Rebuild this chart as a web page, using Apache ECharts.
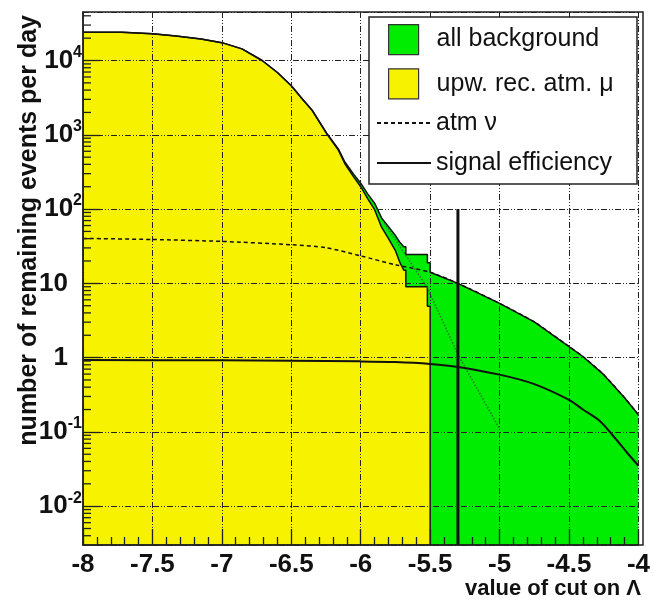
<!DOCTYPE html>
<html><head><meta charset="utf-8">
<script src="https://cdn.jsdelivr.net/npm/echarts@6/dist/echarts.min.js"></script>
<style>html,body{margin:0;padding:0;background:#fff}#c{width:653px;height:600px}</style>
</head><body><div id="c"></div>
<script>
// ---- data ----
const xTickLabels = ['-8','-7.5','-7','-6.5','-6','-5.5','-5','-4.5','-4'];
const muonX = [-8.0,-7.72,-7.72,-7.5,-7.33,-7.15,-7.0,-6.855,-6.71,-6.6,-6.5,-6.41,-6.35,-6.246,-6.16,-6.114,-6.05,-6.0,-5.95,-5.9,-5.85,-5.8,-5.75,-5.72,-5.69,-5.675,-5.675,-5.52,-5.52,-5.5,-5.5];
const muonY = [24000,24000,23500,22900,21400,19500,17400,14350,10000,6900,4570,2880,2140,1035,617,407,269,200,138,98,57,40,27.5,19.5,15,15,9,9,4.9,4.9,0.003];
const totalX = [-8.0,-7.72,-7.72,-7.5,-7.33,-7.15,-7.0,-6.855,-6.71,-6.6,-6.5,-6.41,-6.35,-6.246,-6.16,-6.114,-6.05,-6.0,-5.95,-5.9,-5.85,-5.8,-5.75,-5.72,-5.69,-5.675,-5.675,-5.52,-5.52,-5.5,-5.5,-5.3,-5.0,-4.75,-4.5,-4.4,-4.25,-4.1,-4.0];
const totalY = [24000,24000,23500,22900,21400,19500,17400,14350,10000,6900,4570,2880,2140,1060,640,430,293,223,160,120,76,58,44,36,31,31,24.5,24.5,19,19,14.1,10,5.37,3.02,1.41,1.035,0.589,0.288,0.17];
const nuX = [-8,-7.5,-7,-6.5,-6.25,-6,-5.75,-5.5,-5.3,-5.0,-4.75,-4.5,-4.4,-4.25,-4.1,-4.0];
const nuY = [40.3,38.9,36.7,33.1,30.2,23.4,17.8,14.1,10,5.37,3.02,1.41,1.035,0.589,0.288,0.17];
const effX = [-8,-7,-6.5,-6,-5.75,-5.5,-5.3,-5.0,-4.75,-4.5,-4.4,-4.28,-4.16,-4.08,-4.0];
const effY = [0.93,0.92,0.91,0.89,0.87,0.82,0.75,0.59,0.44,0.27,0.2,0.141,0.079,0.052,0.035];
const extrapX = [-5.83,-5.52,-5.3,-5.0];
const extrapY = [65,8.7,1.1,0.11];
const cutX = [-5.3,-5.3];
const cutY = [0.003,100];
const minorMult = [2,3,4,5,6,7,8,9];
const minorDecades = [-3,-2,-1,0,1,2,3,4];

const YMIN = 0.003, YMAX = 45000;
const FONT = '"Liberation Sans", Arial, Helvetica, sans-serif';
const pairs = (xs, ys) => xs.map((x, i) => [x, ys[i]]);
const minorVals = [];
minorDecades.forEach(d => minorMult.forEach(m => {
  const v = m * Math.pow(10, d);
  if (v > YMIN && v < YMAX) minorVals.push([-8, v]);
}));

const GREEN = '#00ec00', YELLOW = '#f6f200';
const gridStyle = {color: '#222', width: 1, type: [6, 2, 1, 2, 1, 2]};
const hiddenSymbol = {color: 'transparent', borderWidth: 0, opacity: 0};

const chart = echarts.init(document.getElementById('c'), null, {renderer: 'canvas'});
chart.setOption({
  animation: false,
  backgroundColor: '#fff',
  textStyle: {fontFamily: FONT},
  grid: {left: 83, right: 10, top: 12, bottom: 55, containLabel: false},
  xAxis: {
    type: 'value', min: -8, max: -4, interval: 0.5, z: 3,
    axisLine: {show: true, lineStyle: {color: '#222', width: 1.5}},
    axisTick: {show: true, inside: true, length: 16, lineStyle: {color: '#222', width: 1.3}},
    minorTick: {show: true, splitNumber: 5, length: 8, lineStyle: {color: '#222', width: 1.3}},
    splitLine: {show: true, lineStyle: gridStyle},
    axisLabel: {
      margin: 7, fontSize: 26, fontWeight: 'bold', color: '#111', fontFamily: FONT,
      formatter: (v) => { const i = Math.round((v + 8) / 0.5); return xTickLabels[i] !== undefined ? xTickLabels[i] : ''; }
    }
  },
  yAxis: {
    type: 'log', logBase: 10, min: YMIN, max: YMAX, z: 3,
    axisLine: {show: true, lineStyle: {color: '#222', width: 1.5}},
    axisTick: {show: true, inside: true, length: 17, lineStyle: {color: '#222', width: 1.3}},
    splitLine: {show: true, lineStyle: gridStyle},
    axisLabel: {
      margin: 1, showMinLabel: false, showMaxLabel: false, color: '#111', fontFamily: FONT,
      formatter: (v) => {
        const e = Math.round(Math.log10(v));
        if (e === 0) return '{p|1}';
        if (e === 1) return '{p|10}';
        return '{b|10}{s|' + e + '}';
      },
      rich: {
        p: {fontSize: 26, fontWeight: 'bold', fontFamily: FONT, color: '#111', lineHeight: 32, padding: [0, 14, 0, 0]},
        b: {fontSize: 26, fontWeight: 'bold', fontFamily: FONT, color: '#111', lineHeight: 32},
        s: {fontSize: 16, fontWeight: 'bold', fontFamily: FONT, color: '#111', lineHeight: 32, verticalAlign: 'top'}
      }
    }
  },
  legend: [
    {
      z: 20, orient: 'vertical', left: 388, top: 24, padding: 0, itemWidth: 30, itemHeight: 30, itemGap: 13,
      selectedMode: false,
      textStyle: {fontSize: 25, fontFamily: FONT, color: '#111', lineHeight: 30, padding: [0, 0, 0, 13]},
      data: [
        {name: 'all background', icon: 'rect', itemStyle: {color: GREEN, borderColor: '#333', borderWidth: 1.2}},
        {name: 'upw. rec. atm. μ', icon: 'rect', itemStyle: {color: YELLOW, borderColor: '#333', borderWidth: 1.2}}
      ]
    },
    {
      z: 20, orient: 'vertical', left: 376, top: 108, padding: 0, itemWidth: 54, itemHeight: 30, itemGap: 10,
      selectedMode: false,
      textStyle: {fontSize: 25, fontFamily: FONT, color: '#111', lineHeight: 30},
      data: [{name: 'atm ν', itemStyle: hiddenSymbol}, {name: 'signal efficiency', itemStyle: hiddenSymbol}]
    }
  ],
  graphic: [
    {type: 'rect', z: 10, shape: {x: 369, y: 17, width: 268, height: 167}, style: {fill: '#fff', stroke: '#222', lineWidth: 1.5}},
    {type: 'rect', z: 9, shape: {x: 83, y: 12, width: 560, height: 533}, style: {fill: 'none', stroke: '#222', lineWidth: 1.5}},
    {type: 'text', z: 10, x: 29, y: 15, rotation: Math.PI / 2,
      style: {text: 'number of remaining events per day', font: 'bold 25px ' + FONT, fill: '#111', textAlign: 'right', textVerticalAlign: 'middle', align: 'right', verticalAlign: 'middle'}},
    {type: 'text', z: 10, x: 641, y: 589,
      style: {text: 'value of cut on Λ', font: 'bold 22px ' + FONT, fill: '#111', textAlign: 'right', textVerticalAlign: 'middle', align: 'right', verticalAlign: 'middle'}}
  ],
  series: [
    {
      name: 'all background', type: 'line', z: 1, data: pairs(totalX, totalY),
      showSymbol: false, symbol: 'none', color: GREEN, clip: true,
      lineStyle: {color: '#111', width: 1.5},
      areaStyle: {color: GREEN, opacity: 1, origin: 'start'}
    },
    {
      name: 'upw. rec. atm. μ', type: 'line', z: 1, data: pairs(muonX, muonY),
      showSymbol: false, symbol: 'none', color: YELLOW, clip: true,
      lineStyle: {color: '#111', width: 1.5},
      areaStyle: {color: YELLOW, opacity: 1, origin: 'start'}
    },
    {
      name: 'muon extrapolation', type: 'line', z: 5, data: pairs(extrapX, extrapY),
      showSymbol: false, symbol: 'none', clip: true,
      lineStyle: {color: '#2f6f2f', width: 1.6, type: 'dotted', opacity: 0.85}
    },
    {
      name: 'atm ν', type: 'line', z: 6, data: pairs(nuX, nuY), smooth: 0.25,
      showSymbol: false, symbol: 'none', color: '#111', clip: true,
      lineStyle: {color: '#111', width: 1.5, type: [4, 3]}
    },
    {
      name: 'signal efficiency', type: 'line', z: 6, data: pairs(effX, effY), smooth: 0.3,
      showSymbol: false, symbol: 'none', color: '#111', clip: true,
      lineStyle: {color: '#111', width: 2}
    },
    {
      name: 'cut', type: 'line', z: 6, data: pairs(cutX, cutY),
      showSymbol: false, symbol: 'none', clip: true,
      lineStyle: {color: '#111', width: 3}
    },
    {
      name: 'yminor', type: 'custom', z: 7, silent: true, clip: false,
      data: minorVals,
      renderItem: (params, api) => {
        const p = api.coord([api.value(0), api.value(1)]);
        return {type: 'line', shape: {x1: p[0], y1: p[1], x2: p[0] + 8, y2: p[1]}, style: {stroke: '#222', lineWidth: 1.3}};
      }
    }
  ]
});
</script></body></html>
